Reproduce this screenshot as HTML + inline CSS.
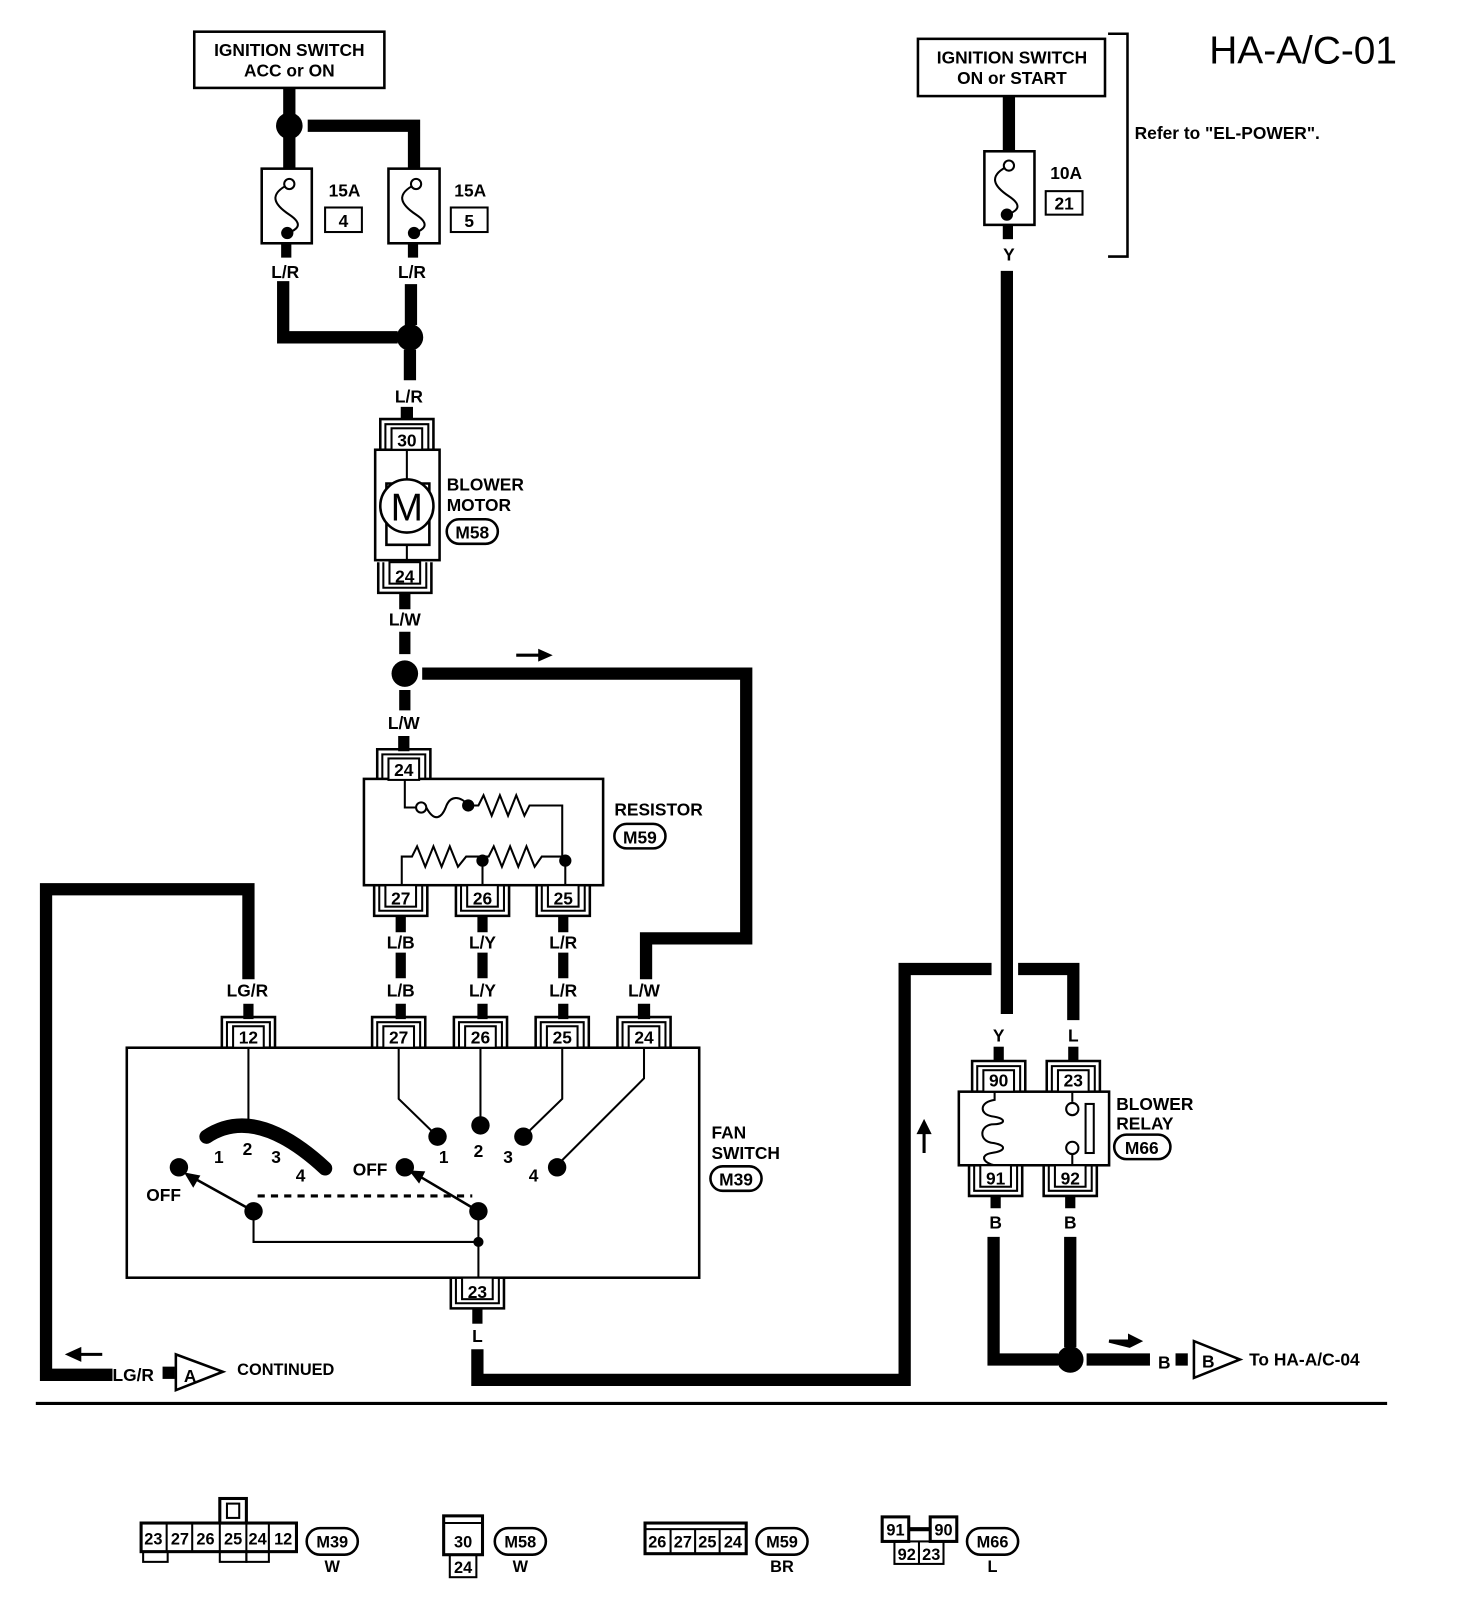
<!DOCTYPE html>
<html><head><meta charset="utf-8">
<style>
html,body{margin:0;padding:0;background:#fff;}
svg{display:block;}
text{font-family:"Liberation Sans",sans-serif;font-weight:bold;fill:#000;}
</style></head>
<body>
<svg width="1472" height="1614" viewBox="0 0 1440 1579" xmlns="http://www.w3.org/2000/svg">
<defs>
<g id="ct">
<path d="M-26,30 V0 H26 V30" fill="none" stroke="#000" stroke-width="2.5"/>
<path d="M-21,30 V5 H21 V30" fill="none" stroke="#000" stroke-width="2"/>
<rect x="-15" y="9" width="30" height="21" fill="#fff" stroke="#000" stroke-width="2"/>
</g>
<g id="cb">
<path d="M-26,0 V30 H26 V0" fill="none" stroke="#000" stroke-width="2.5"/>
<path d="M-21,0 V25 H21 V0" fill="none" stroke="#000" stroke-width="2"/>
<rect x="-15" y="0" width="30" height="21" fill="#fff" stroke="#000" stroke-width="2"/>
</g>
</defs>
<g fill="none" stroke="#000">
<rect x="190" y="31" width="186" height="55" stroke-width="2.5"/>
<path d="M283,86 V112 M283,134 V165 M301,123 H405 V165" stroke-width="12"/>
<rect x="256" y="165" width="49" height="73" stroke-width="2.5"/>
<rect x="380" y="165" width="50" height="73" stroke-width="2.5"/>
<path d="M283,180 C262,190 268,200 283,210 C298,220 290,225 281,228" stroke-width="2"/>
<path d="M407,180 C386,190 392,200 407,210 C422,220 414,225 405,228" stroke-width="2"/>
<rect x="318" y="203" width="36" height="24" stroke-width="2"/>
<rect x="441" y="203" width="36" height="24" stroke-width="2"/>
<path d="M280,238 V252 M404,238 V252" stroke-width="10"/>
<path d="M277,275 V330 H389 M402,278 V318 M401,342 V372 M398,398 V410" stroke-width="12"/>
<rect x="367" y="440" width="63" height="108" stroke-width="2.5"/>
<path d="M378,473 H420 V533 H378 Z" stroke-width="2.5"/>
<path d="M398,440 V473 M398,533 V548" stroke-width="2"/>
<path d="M396,580 V596 M396,618 V640 M396,675 V695 M395,720 V735" stroke-width="11"/>
<path d="M413,659 H730 V918 H632 V958 M630,982 V997" stroke-width="12"/>
<rect x="356" y="762" width="234" height="104" stroke-width="2.5"/>
<path d="M396,762 V790 H407" stroke-width="2"/>
<path d="M417,790 C425,805 432,800 436,790 C440,778 450,778 458,788" stroke-width="2"/>
<path d="M458,788 H468 L473,778 L481,798 L489,778 L497,798 L505,778 L513,798 L518,788 H550 V842" stroke-width="2"/>
<path d="M393,866 V838 H403 L408,828 L416,848 L424,828 L432,848 L440,828 L448,848 L456,838 H478 L483,828 L491,848 L499,828 L507,848 L515,828 L523,848 L530,838 H553" stroke-width="2"/>
<path d="M472,842 V866 M553,842 V866" stroke-width="2"/>
<path d="M392,896 V912 M472,896 V912 M551,896 V912 M392,932 V957 M472,932 V957 M551,932 V957 M392,982 V997 M472,982 V997 M551,982 V997" stroke-width="10"/>
<path d="M243,958 V870 H45 V1345 H110" stroke-width="12"/>
<path d="M243,982 V997" stroke-width="10"/>
<rect x="124" y="1025" width="560" height="225" stroke-width="2.5"/>
<path d="M243,1025 V1095" stroke-width="2"/>
<path d="M202,1112 Q250,1080 318,1143" stroke-width="14" stroke-linecap="round"/>
<path d="M390,1025 V1075 L428,1112 M470,1025 V1100 M550,1025 V1075 L512,1112 M630,1025 V1055 L545,1140" stroke-width="2"/>
<path d="M248,1185 L185,1150 M468,1185 L404,1147" stroke-width="2.5"/>
<path d="M248,1185 V1215 H468 V1185 M468,1215 V1250" stroke-width="2"/>
<path d="M252,1170 H462" stroke-width="3" stroke-dasharray="7,6"/>
<path d="M467,1280 V1295" stroke-width="10"/>
<path d="M467,1320 V1350 H885 V948 H970 M996,948 H1050 V998" stroke-width="12"/>
<path d="M985,265 V992" stroke-width="12"/>
<path d="M977,1024 V1038" stroke-width="10"/>
<rect x="898" y="38" width="183" height="56" stroke-width="2.5"/>
<path d="M987,94 V148" stroke-width="12"/>
<rect x="963" y="148" width="49" height="72" stroke-width="2.5"/>
<path d="M987,162 C966,172 972,182 987,192 C1002,202 994,207 985,210" stroke-width="2"/>
<rect x="1023" y="187" width="36" height="23" stroke-width="2"/>
<path d="M986,220 V234" stroke-width="10"/>
<path d="M1084,33 H1103 V251 H1084" stroke-width="2.5"/>
<path d="M1050,1024 V1038" stroke-width="10"/>
<rect x="938" y="1068" width="147" height="72" stroke-width="2.5"/>
<path d="M973,1068 V1076 C958,1078 958,1090 970,1092 C985,1094 985,1100 970,1100 C958,1102 958,1116 970,1118 C985,1120 985,1126 970,1128 C958,1130 962,1138 973,1140" stroke-width="2"/>
<path d="M1049,1068 V1078 M1049,1130 V1140" stroke-width="2"/>
<rect x="1062" y="1080" width="8" height="48" stroke-width="2"/>
<path d="M974,1170 V1182 M1047,1170 V1182" stroke-width="10"/>
<path d="M972,1210 V1330 H1035 M1047,1210 V1318 M1063,1330 H1125" stroke-width="12"/>
<path d="M1168,1312 V1348 L1213,1330 Z" stroke-width="2.5"/>
<path d="M172,1325 V1360 L218,1342 Z" stroke-width="2.5"/>
<path d="M35,1373 H1357" stroke-width="3"/>
<rect x="437" y="508" width="50" height="24" rx="12" stroke-width="2.5"/>
<rect x="601" y="806" width="50" height="24" rx="12" stroke-width="2.5"/>
<rect x="695" y="1141" width="50" height="24" rx="12" stroke-width="2.5"/>
<rect x="1090" y="1110" width="55" height="24" rx="12" stroke-width="2.5"/>
</g>
<circle cx="398" cy="495" r="26" fill="#fff" stroke="#000" stroke-width="2.5"/>
<text x="398" y="509" font-size="38" text-anchor="middle" style="font-weight:normal">M</text>
<g fill="#000">
<circle cx="283" cy="123" r="13"/>
<circle cx="401" cy="330" r="13"/>
<circle cx="396" cy="659" r="13"/>
<circle cx="1047" cy="1330" r="13"/>
<circle cx="281" cy="228" r="6"/><circle cx="405" cy="228" r="6"/><circle cx="985" cy="210" r="6"/>
<circle cx="458" cy="788" r="6"/><circle cx="472" cy="842" r="6"/><circle cx="553" cy="842" r="6"/>
<circle cx="175" cy="1142" r="9"/><circle cx="396" cy="1142" r="9"/>
<circle cx="428" cy="1112" r="9"/><circle cx="470" cy="1101" r="9"/><circle cx="512" cy="1112" r="9"/><circle cx="545" cy="1142" r="9"/>
<circle cx="248" cy="1185" r="9"/><circle cx="468" cy="1185" r="9"/><circle cx="468" cy="1215" r="5"/>
<path d="M180,1147 L196,1150 L189,1162 Z"/>
<path d="M400,1145 L416,1146 L410,1158 Z"/>
<path d="M505,641 H528 V637 L537,641 L528,645 V641 Z" stroke="#000" stroke-width="3"/>
<path d="M1085,1312 H1105 V1307 L1115,1312 L1105,1317 Z" stroke="#000" stroke-width="3"/>
<path d="M100,1325 H78 V1320 L67,1325 L78,1330 V1325 Z" stroke="#000" stroke-width="3"/>
<path d="M904,1128 V1108 H899 L904,1098 L909,1108 H904 Z" stroke="#000" stroke-width="3"/>
<rect x="159" y="1337" width="12" height="12"/>
<rect x="1150" y="1324" width="12" height="12"/>
</g>
<circle cx="283" cy="180" r="5" fill="#fff" stroke="#000" stroke-width="2"/>
<circle cx="407" cy="180" r="5" fill="#fff" stroke="#000" stroke-width="2"/>
<circle cx="987" cy="162" r="5" fill="#fff" stroke="#000" stroke-width="2"/>
<circle cx="412" cy="790" r="5" fill="#fff" stroke="#000" stroke-width="2"/>
<circle cx="1049" cy="1085" r="6" fill="#fff" stroke="#000" stroke-width="2"/>
<circle cx="1049" cy="1123" r="6" fill="#fff" stroke="#000" stroke-width="2"/>
<use href="#ct" x="398" y="410"/><use href="#cb" x="396" y="550"/>
<use href="#ct" x="395" y="733"/>
<use href="#cb" x="392" y="866"/><use href="#cb" x="472" y="866"/><use href="#cb" x="551" y="866"/>
<use href="#ct" x="243" y="995"/><use href="#ct" x="390" y="995"/><use href="#ct" x="470" y="995"/><use href="#ct" x="550" y="995"/><use href="#ct" x="630" y="995"/>
<use href="#cb" x="467" y="1250"/>
<use href="#ct" x="977" y="1038"/><use href="#ct" x="1050" y="1038"/>
<use href="#cb" x="974" y="1140"/><use href="#cb" x="1047" y="1140"/>
<g font-size="17" text-anchor="middle">
<text x="283" y="55">IGNITION SWITCH</text><text x="283" y="75">ACC or ON</text>
<text x="990" y="62">IGNITION SWITCH</text><text x="990" y="82">ON or START</text>
<text x="337" y="192">15A</text><text x="336" y="222">4</text>
<text x="460" y="192">15A</text><text x="459" y="222">5</text>
<text x="1043" y="175">10A</text><text x="1041" y="205">21</text>
<text x="987" y="255">Y</text>
<text x="279" y="272">L/R</text><text x="403" y="272">L/R</text><text x="400" y="394">L/R</text>
<text x="398" y="437">30</text><text x="396" y="570">24</text>
<text x="396" y="612">L/W</text><text x="395" y="713">L/W</text>
<text x="395" y="759">24</text>
<text x="392" y="885">27</text><text x="472" y="885">26</text><text x="551" y="885">25</text>
<text x="392" y="928">L/B</text><text x="472" y="928">L/Y</text><text x="551" y="928">L/R</text>
<text x="242" y="975">LG/R</text><text x="392" y="975">L/B</text><text x="472" y="975">L/Y</text><text x="551" y="975">L/R</text><text x="630" y="975">L/W</text>
<text x="243" y="1021">12</text><text x="390" y="1021">27</text><text x="470" y="1021">26</text><text x="550" y="1021">25</text><text x="630" y="1021">24</text>
<text x="214" y="1138">1</text><text x="242" y="1130">2</text><text x="270" y="1138">3</text><text x="294" y="1156">4</text>
<text x="434" y="1138">1</text><text x="468" y="1132">2</text><text x="497" y="1138">3</text><text x="522" y="1156">4</text>
<text x="160" y="1175">OFF</text><text x="362" y="1150">OFF</text>
<text x="467" y="1270">23</text><text x="467" y="1313">L</text>
<text x="977" y="1019">Y</text><text x="1050" y="1019">L</text>
<text x="977" y="1063">90</text><text x="1050" y="1063">23</text>
<text x="974" y="1159">91</text><text x="1047" y="1159">92</text>
<text x="974" y="1202">B</text><text x="1047" y="1202">B</text>
<text x="1139" y="1339">B</text><text x="1182" y="1338">B</text>
<text x="186" y="1352">A</text>
<text x="462" y="527">M58</text><text x="626" y="825">M59</text><text x="720" y="1160">M39</text><text x="1117" y="1129">M66</text>
</g>
<g font-size="17">
<text x="437" y="480">BLOWER</text><text x="437" y="500">MOTOR</text>
<text x="601" y="798">RESISTOR</text>
<text x="696" y="1114">FAN</text><text x="696" y="1134">SWITCH</text>
<text x="1092" y="1086">BLOWER</text><text x="1092" y="1105">RELAY</text>
<text x="110" y="1351">LG/R</text>
<text x="232" y="1345" font-size="16">CONTINUED</text>
<text x="1222" y="1336">To HA-A/C-04</text>
<text x="1110" y="136">Refer to "EL-POWER".</text>
<text x="1183" y="62" font-size="38" style="font-weight:normal">HA-A/C-01</text>
</g>
<g fill="none" stroke="#000" stroke-width="3">
<rect x="138" y="1490" width="152" height="28"/>
<rect x="215" y="1466" width="26" height="24"/>
<rect x="222" y="1471" width="12" height="14" stroke-width="2"/>
<rect x="140" y="1518" width="24" height="10" stroke-width="2"/>
<rect x="215" y="1518" width="26" height="10" stroke-width="2"/>
<rect x="241" y="1518" width="22" height="10" stroke-width="2"/>
<path d="M163,1490 V1518 M188,1490 V1518 M215,1490 V1518 M241,1490 V1518 M263,1490 V1518" stroke-width="2"/>
<rect x="434" y="1483" width="38" height="38"/>
<path d="M434,1490 H472" stroke-width="2"/>
<rect x="440" y="1521" width="26" height="22" stroke-width="2"/>
<rect x="631" y="1490" width="99" height="30"/>
<path d="M631,1496 H730 M656,1496 V1520 M680,1496 V1520 M704,1496 V1520" stroke-width="2"/>
<rect x="863" y="1484" width="26" height="24"/>
<rect x="910" y="1484" width="26" height="24"/>
<path d="M889,1496 H910" stroke-width="4"/>
<rect x="875" y="1508" width="48" height="22" stroke-width="2"/>
<path d="M899,1508 V1530" stroke-width="2"/>
<rect x="300" y="1495" width="50" height="26" rx="13" stroke-width="2.5"/>
<rect x="484" y="1495" width="50" height="26" rx="13" stroke-width="2.5"/>
<rect x="740" y="1495" width="50" height="26" rx="13" stroke-width="2.5"/>
<rect x="946" y="1495" width="50" height="26" rx="13" stroke-width="2.5"/>
</g>
<g font-size="16" text-anchor="middle">
<text x="150" y="1511">23</text><text x="176" y="1511">27</text><text x="201" y="1511">26</text><text x="228" y="1511">25</text><text x="252" y="1511">24</text><text x="277" y="1511">12</text>
<text x="453" y="1514">30</text><text x="453" y="1539">24</text>
<text x="643" y="1514">26</text><text x="668" y="1514">27</text><text x="692" y="1514">25</text><text x="717" y="1514">24</text>
<text x="876" y="1502">91</text><text x="923" y="1502">90</text><text x="887" y="1526">92</text><text x="911" y="1526">23</text>
<text x="325" y="1514">M39</text><text x="509" y="1514">M58</text><text x="765" y="1514">M59</text><text x="971" y="1514">M66</text>
<text x="325" y="1538">W</text><text x="509" y="1538">W</text><text x="765" y="1538">BR</text><text x="971" y="1538">L</text>
</g>
</svg>
</body></html>
